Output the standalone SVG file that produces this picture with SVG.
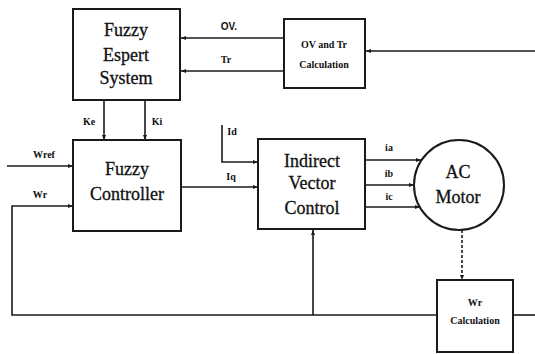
<svg xmlns="http://www.w3.org/2000/svg" width="535" height="354" viewBox="0 0 535 354">
<defs>
<marker id="ah" viewBox="0 0 10 10" refX="10" refY="5" markerWidth="5" markerHeight="5" orient="auto" markerUnits="userSpaceOnUse">
<path d="M0,1 L10,5 L0,9 z" fill="#1a1a1a"/>
</marker>
<style>
.box{fill:none;stroke:#1a1a1a;stroke-width:2}
.ln{fill:none;stroke:#1a1a1a;stroke-width:1.6}
.big{font-size:18px;fill:#111;stroke:#111;stroke-width:0.3;text-anchor:middle}
.sm{font-size:10px;font-weight:bold;fill:#111;text-anchor:middle}
</style>
</defs>
<rect width="535" height="354" fill="#ffffff"/>
<g id="connectors" font-family="Liberation Serif, Times New Roman, serif">
<line class="ln" x1="284" y1="38" x2="181" y2="38" marker-end="url(#ah)"/>
<line class="ln" x1="284" y1="71" x2="181" y2="71" marker-end="url(#ah)"/>
<line class="ln" x1="535" y1="51" x2="366" y2="51" marker-end="url(#ah)"/>
<line class="ln" x1="104" y1="100" x2="104" y2="140" marker-end="url(#ah)"/>
<line class="ln" x1="145" y1="100" x2="145" y2="140" marker-end="url(#ah)"/>
<line class="ln" x1="7" y1="166" x2="73" y2="166" marker-end="url(#ah)"/>
<polyline class="ln" points="437,315 12,315 12,206 73,206" marker-end="url(#ah)"/>
<line class="ln" x1="313" y1="315" x2="313" y2="230" marker-end="url(#ah)"/>
<line class="ln" x1="513" y1="315" x2="535" y2="315"/>
<polyline class="ln" points="222,125 222,162 258,162" marker-end="url(#ah)"/>
<line class="ln" x1="181" y1="187" x2="258" y2="187" marker-end="url(#ah)"/>
<line class="ln" x1="366" y1="160" x2="421" y2="160" marker-end="url(#ah)"/>
<line class="ln" x1="366" y1="185" x2="414" y2="185" marker-end="url(#ah)"/>
<line class="ln" x1="366" y1="207" x2="420" y2="207" marker-end="url(#ah)"/>
<line class="ln" x1="462" y1="230" x2="462" y2="280" stroke-dasharray="3,2" marker-end="url(#ah)"/>
<text class="sm" x="229" y="30" font-family="Liberation Sans, Arial, sans-serif">OV.</text>
<text class="sm" x="226" y="63">Tr</text>
<text class="sm" x="89" y="125">Ke</text>
<text class="sm" x="157" y="125">Ki</text>
<text class="sm" x="44" y="158">Wref</text>
<text class="sm" x="40" y="198">Wr</text>
<text class="sm" x="232" y="135">Id</text>
<text class="sm" x="231" y="180">Iq</text>
<text class="sm" x="389" y="151">ia</text>
<text class="sm" x="389" y="177">ib</text>
<text class="sm" x="389" y="200">ic</text>
</g>
<g id="fuzzy-expert" font-family="Liberation Serif, Times New Roman, serif">
<rect class="box" x="73" y="9" width="107" height="91"/>
<text class="big" x="126" y="36">Fuzzy</text>
<text class="big" x="126" y="61">Espert</text>
<text class="big" x="126" y="84">System</text>
</g>
<g id="ov-tr-calc" font-family="Liberation Serif, Times New Roman, serif">
<rect class="box" x="284" y="19" width="81" height="69"/>
<text class="sm" x="324" y="48">OV and Tr</text>
<text class="sm" x="324" y="68">Calculation</text>
</g>
<g id="fuzzy-controller" font-family="Liberation Serif, Times New Roman, serif">
<rect class="box" x="73" y="140" width="108" height="91"/>
<text class="big" x="127" y="175">Fuzzy</text>
<text class="big" x="127" y="200">Controller</text>
</g>
<g id="vector-control" font-family="Liberation Serif, Times New Roman, serif">
<rect class="box" x="258" y="139" width="107" height="90"/>
<text class="big" x="312" y="167">Indirect</text>
<text class="big" x="312" y="189">Vector</text>
<text class="big" x="312" y="214">Control</text>
</g>
<g id="ac-motor" font-family="Liberation Serif, Times New Roman, serif">
<circle class="box" cx="459" cy="185" r="45"/>
<text class="big" x="458" y="178">AC</text>
<text class="big" x="458" y="203">Motor</text>
</g>
<g id="wr-calc" font-family="Liberation Serif, Times New Roman, serif">
<rect class="box" x="437" y="280" width="76" height="72"/>
<text class="sm" x="475" y="306">Wr</text>
<text class="sm" x="475" y="324">Calculation</text>
</g>
</svg>
